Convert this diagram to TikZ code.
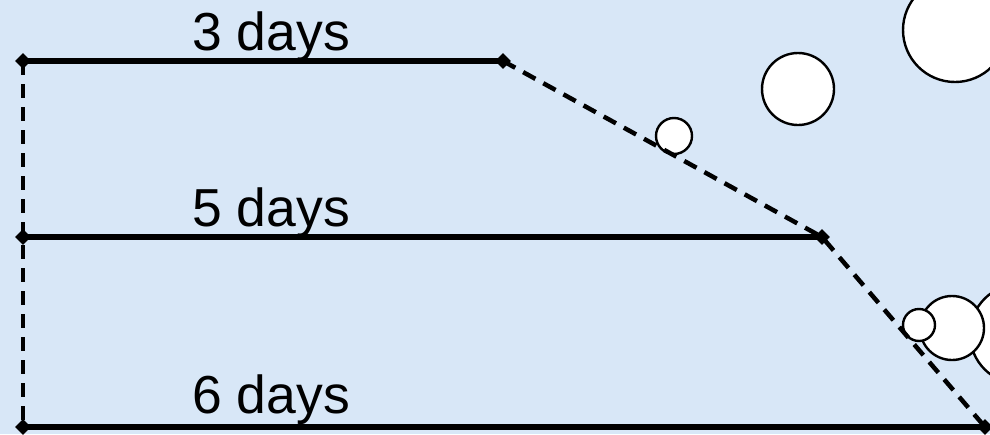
\documentclass[tikz,border=0pt]{standalone}
\usepackage{fontspec}
\setmainfont{Liberation Sans}
\usetikzlibrary{shapes.geometric}
\definecolor{bgblue}{RGB}{216,231,247}
\begin{document}
\begin{tikzpicture}[x=1pt,y=-1pt,
  pt/.style={diamond,fill=black,inner sep=0pt,minimum width=16pt,minimum height=16pt},
  solidline/.style={line width=5.5pt},
  dashline/.style={line width=4.5pt,dash pattern=on 14pt off 9pt},
  bubble/.style={draw=black,fill=white,line width=2.4pt},
  lbl/.style={font=\fontsize{53.5}{60}\selectfont,anchor=base west,inner sep=0pt}]
\fill[bgblue] (0,0) rectangle (990,434);
\useasboundingbox (0,0) rectangle (990,434);
% bubbles
\draw[bubble] (955,30) circle (52);
\draw[bubble] (798,89) circle (36);
\draw[bubble] (674,136) circle (18);
\draw[bubble] (1020,334) circle (50);
\draw[bubble] (952,328) circle (32);
\draw[bubble] (919,325) circle (16);
% points
\node[pt] (a1) at (23,61) {};
\node[pt] (b1) at (503,61) {};
\node[pt] (a2) at (23,237) {};
\node[pt] (b2) at (822,237) {};
\node[pt] (a3) at (23,427) {};
\node[pt] (b3) at (985,427) {};
% lines
\draw[solidline] (a1.center) -- (b1.center);
\draw[solidline] (a2.center) -- (b2.center);
\draw[solidline] (a3.center) -- (b3.center);
\draw[dashline] (a1.center) -- (a2.center) -- (a3.center);
\draw[dashline] (b1.center) -- (b2.center) -- (b3.center);
% labels
\node[lbl] (l1) at (192,50) {3 days};
\node[lbl] (l2) at (192,226) {5 days};
\node[lbl] (l3) at (192,413) {6 days};
\end{tikzpicture}
\end{document}
